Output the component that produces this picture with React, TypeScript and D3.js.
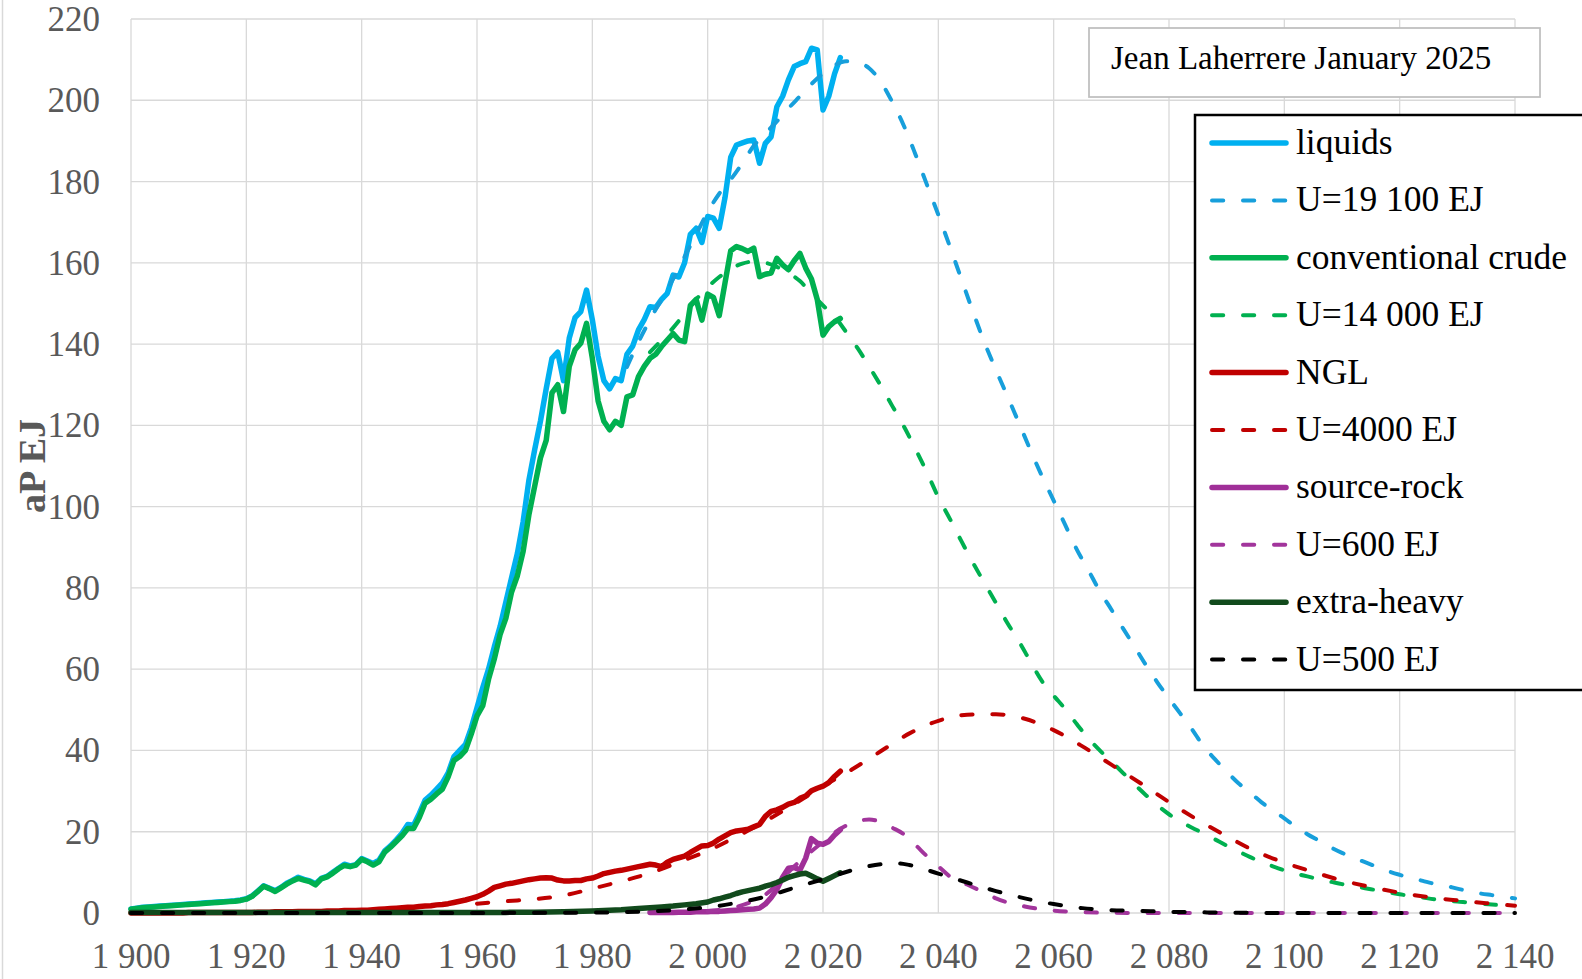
import React from 'react';
import * as d3 from 'd3';

// ---------- data ----------
const HIST_START = 1900;

const liquids = [
  1.0, 1.2, 1.4, 1.5, 1.6, 1.7, 1.8, 1.9, 2.0, 2.1,
  2.2, 2.3, 2.4, 2.5, 2.6, 2.7, 2.8, 2.9, 3.0, 3.2,
  3.5, 4.2, 5.4, 6.7, 6.1, 5.5, 6.3, 7.3, 8.0, 8.8,
  8.3, 7.9, 7.2, 8.5, 9.0, 10.0, 11.0, 12.0, 11.6, 11.9,
  13.4, 12.8, 12.2, 13.0, 15.3, 16.5, 18.0, 19.6, 21.8, 21.6,
  24.5, 27.8, 29.0, 30.5, 32.0, 34.5, 38.5, 40.0, 41.5, 45.5,
  50.5, 55.5, 60.0, 65.5, 70.5, 76.5, 82.5, 88.5, 96.3, 106.5,
  114.0, 121.0, 129.0, 136.5, 138.0, 131.0, 141.5, 146.5, 148.0, 153.3,
  146.0, 137.0, 131.0, 129.0, 131.5, 131.0, 137.5, 139.5, 143.5, 146.0,
  149.2, 149.0, 151.0, 152.5, 157.0, 156.5, 160.0, 167.0, 168.5, 165.0,
  171.4, 171.0, 168.5, 176.0, 186.0, 189.0, 189.5, 190.0, 190.2, 184.5,
  189.4, 191.0, 198.4, 201.0, 205.0, 208.3, 209.0, 209.5, 212.8, 212.4,
  197.6, 201.0, 206.5, 210.5,
];

const conventionalCrude = [
  0.9, 1.1, 1.3, 1.4, 1.5, 1.6, 1.7, 1.8, 1.9, 2.0,
  2.1, 2.2, 2.3, 2.4, 2.5, 2.6, 2.7, 2.8, 2.9, 3.1,
  3.4, 4.1, 5.3, 6.6, 6.0, 5.3, 6.2, 7.1, 7.9, 8.5,
  8.1, 7.7, 6.9, 8.4, 8.9, 9.8, 10.9, 11.7, 11.4, 11.8,
  13.2, 12.6, 11.8, 12.6, 15.0, 16.2, 17.6, 19.0, 20.8, 20.8,
  23.5, 27.0, 28.0, 29.3, 30.5, 33.5, 37.5, 38.5, 40.0, 44.0,
  48.5, 51.0, 57.5, 62.5, 68.5, 72.5, 79.0, 83.0, 89.0, 98.0,
  105.0, 112.0, 116.3, 128.0, 130.0, 123.4, 134.5, 138.6, 140.2, 145.1,
  136.5, 126.0, 121.0, 118.9, 121.0, 120.0, 127.0, 127.5, 132.0, 134.5,
  136.5, 137.5, 139.4, 141.0, 142.6, 141.0, 140.6, 149.5, 151.0, 145.9,
  152.3, 151.5, 147.0, 155.0, 163.0, 164.0, 163.5, 162.8, 163.6, 156.6,
  157.2, 157.5, 161.1, 159.5, 158.3, 160.5, 162.3, 158.7, 156.0, 151.0,
  142.2, 144.3, 145.5, 146.3,
];

const ngl = [
  0.0, 0.0, 0.0, 0.0, 0.0, 0.0, 0.0, 0.0, 0.0, 0.0,
  0.1, 0.1, 0.1, 0.1, 0.1, 0.1, 0.1, 0.1, 0.1, 0.1,
  0.1, 0.1, 0.2, 0.2, 0.2, 0.3, 0.3, 0.3, 0.3, 0.4,
  0.4, 0.4, 0.4, 0.4, 0.5, 0.5, 0.5, 0.6, 0.6, 0.6,
  0.7, 0.7, 0.8, 0.9, 1.0, 1.1, 1.2, 1.3, 1.4, 1.4,
  1.6, 1.7, 1.8, 2.0, 2.1, 2.3, 2.6, 2.9, 3.2, 3.6,
  4.0, 4.6, 5.4, 6.3, 6.7, 7.1, 7.3, 7.6, 7.9, 8.2,
  8.4, 8.6, 8.7, 8.6, 8.1, 7.9, 7.9, 8.0, 8.0, 8.4,
  8.6, 9.1, 9.7, 10.0, 10.3, 10.5, 10.8, 11.1, 11.4, 11.7,
  12.0, 11.8, 11.4, 12.5, 13.2, 13.6, 14.0, 14.9, 15.7, 16.5,
  16.6, 17.2, 18.2, 19.0, 19.8, 20.2, 20.4, 20.6, 21.2, 21.8,
  23.8, 25.0, 25.4, 26.0, 26.8, 27.2, 28.2, 28.8, 30.1, 30.7,
  31.2, 32.1, 33.6, 34.9,
];

const SOURCE_ROCK_START = 1990;
const sourceRock = [
  0.1, 0.1, 0.1, 0.1, 0.1, 0.2, 0.2, 0.2, 0.3, 0.3,
  0.3, 0.4, 0.4, 0.5, 0.6, 0.7, 0.8, 0.9, 1.0, 1.2,
  2.2, 3.8, 5.8, 8.8, 11.0, 11.2, 10.6, 13.5, 18.3, 17.2,
  16.9, 17.6, 19.2, 20.5,
];

const extraHeavyYears = [
  1900, 1950, 1965, 1970, 1975, 1980, 1985, 1988, 1990, 1992, 1994, 1996, 1998,
  2000, 2001, 2002, 2003, 2004, 2005, 2006, 2007, 2008, 2009, 2010, 2011,
  2012, 2013, 2014, 2015, 2016, 2017, 2018, 2019, 2020, 2021, 2022, 2023,
];
const extraHeavy = [
  0.1, 0.1, 0.15, 0.2, 0.3, 0.5, 0.8, 1.1, 1.3, 1.5, 1.7, 2.0, 2.3,
  2.7, 3.2, 3.5, 3.9, 4.3, 4.8, 5.2, 5.5, 5.8, 6.1, 6.6, 7.0,
  7.5, 8.1, 8.8, 9.2, 9.6, 9.8, 9.1, 8.4, 7.8, 8.5, 9.2, 9.9,
];

// models (one value every 2 years)
const U19100_START = 1986;
const u19100 = [
  134.4, 140.5, 146.0, 151.0, 156.0, 161.5, 167.0, 172.5, 177.0, 180.5,
  184.5, 188.8, 191.8, 194.8, 198.0, 201.0, 204.0, 206.6, 208.6, 209.6,
  209.3, 207.9, 204.6, 199.6, 193.8, 186.8, 179.3, 171.8, 164.0, 156.0,
  148.0, 140.4, 133.6, 127.1, 120.5, 113.8, 107.4, 101.5, 95.5, 89.5,
  84.4, 79.2, 74.7, 70.1, 65.6, 61.0, 56.7, 52.8, 49.0, 45.2,
  41.0, 37.8, 34.8, 32.0, 29.7, 27.3, 25.2, 23.3, 21.2, 19.4,
  17.8, 16.2, 14.8, 13.6, 12.5, 11.4, 10.3, 9.4, 8.6, 7.9,
  7.2, 6.7, 6.0, 5.4, 4.8, 4.4, 4.0, 3.6,
];

const U14000_START = 1990;
const u14000 = [
  138.0, 141.0, 144.0, 147.5, 151.0, 154.0, 156.5, 158.5, 159.8, 160.3,
  160.0, 159.0, 157.5, 155.5, 152.5, 149.5, 146.8, 143.0, 139.0, 134.5,
  129.8, 124.8, 119.8, 114.3, 108.5, 102.3, 97.0, 91.5, 86.2, 81.2,
  76.3, 71.3, 66.8, 61.8, 57.0, 53.5, 50.2, 46.5, 43.0, 40.0,
  37.3, 34.5, 31.7, 29.0, 26.5, 24.3, 22.5, 21.0, 19.6, 18.1,
  16.6, 15.2, 13.8, 12.6, 11.5, 10.5, 9.7, 9.0, 8.3, 7.7,
  7.1, 6.6, 6.1, 5.6, 5.1, 4.6, 4.2, 3.8, 3.4, 3.1,
  2.8, 2.6, 2.3, 2.1, 1.9, 1.8,
];

// one value every 5 years
const U4000_START = 1960;
const u4000 = [
  2.3, 2.9, 3.4, 4.3, 6.0, 7.8, 9.8, 12.5, 15.3, 18.8,
  22.6, 26.8, 31.2, 35.3, 39.8, 44.2, 47.3, 48.8, 48.9, 47.8,
  45.0, 41.0, 36.5, 32.0, 27.3, 22.9, 18.9, 15.2, 12.4, 10.1,
  8.0, 6.4, 5.0, 3.9, 3.1, 2.4, 1.8,
];

const u600Years = [
  2000, 2005, 2008, 2010, 2012, 2014, 2016, 2018, 2020, 2022, 2024, 2026, 2028,
  2030, 2032, 2034, 2036, 2038, 2040, 2042, 2045, 2048, 2050, 2055, 2060, 2065,
  2070, 2080, 2090, 2100, 2110, 2120, 2130, 2140,
];
const u600 = [
  0.5, 1.5, 3.0, 4.5, 7.0, 10.0, 12.8, 15.2, 17.5, 19.8, 21.5, 22.6, 23.0,
  22.4, 21.0, 19.4, 16.8, 14.0, 11.5, 9.0, 7.0, 5.0, 3.6, 1.6, 0.6, 0.2,
  0.05, 0, 0, 0, 0, 0, 0, 0,
];

const u500Years = [
  1900, 1950, 1970, 1980, 1985, 1990, 1995, 2000, 2005, 2010, 2015, 2020, 2025,
  2030, 2033, 2035, 2040, 2045, 2050, 2055, 2060, 2065, 2070, 2075, 2080, 2090,
  2100, 2140,
];
const u500 = [
  0, 0, 0.05, 0.1, 0.2, 0.4, 0.8, 1.4, 2.5, 4.0, 6.2, 8.3, 10.5,
  12.0, 12.2, 11.8, 9.7, 7.5, 5.4, 3.6, 2.2, 1.2, 0.7, 0.5, 0.3, 0.1,
  0, 0,
];

const xTicks = [1900, 1920, 1940, 1960, 1980, 2000, 2020, 2040, 2060, 2080, 2100, 2120, 2140];
const xTickLabels = ['1 900', '1 920', '1 940', '1 960', '1 980', '2 000', '2 020', '2 040', '2 060', '2 080', '2 100', '2 120', '2 140'];
const yTicks = [0, 20, 40, 60, 80, 100, 120, 140, 160, 180, 200, 220];

const legendLabels = [
  'liquids', 'U=19 100 EJ', 'conventional crude', 'U=14 000 EJ', 'NGL',
  'U=4000 EJ', 'source-rock', 'U=600 EJ', 'extra-heavy', 'U=500 EJ',
];

// ---------- helpers ----------
type Pt = [number, number];
const annual = (start: number, vals: number[]): Pt[] => vals.map((v, i) => [start + i, v]);
const stepped = (start: number, step: number, vals: number[]): Pt[] => vals.map((v, i) => [start + i * step, v]);
const paired = (yrs: number[], vals: number[]): Pt[] => vals.map((v, i) => [yrs[i], v]);

const FONT = '"Liberation Serif", "Times New Roman", serif';
const DASH = '11.25 19.75';

export default function App() {
  const x = d3.scaleLinear().domain([1900, 2140]).range([131, 1515]);
  const y = d3.scaleLinear().domain([0, 220]).range([913, 19]);
  const lin = d3.line<Pt>().x(d => x(d[0])).y(d => y(d[1]));
  const smooth = d3.line<Pt>().x(d => x(d[0])).y(d => y(d[1])).curve(d3.curveMonotoneX);

  const series = [
    { label: legendLabels[0], color: '#00B0F0', dashed: false, pts: annual(HIST_START, liquids) },
    { label: legendLabels[1], color: '#179FDB', dashed: true, pts: stepped(U19100_START, 2, u19100) },
    { label: legendLabels[2], color: '#00B050', dashed: false, pts: annual(HIST_START, conventionalCrude) },
    { label: legendLabels[3], color: '#00B050', dashed: true, pts: stepped(U14000_START, 2, u14000) },
    { label: legendLabels[4], color: '#C00000', dashed: false, pts: annual(HIST_START, ngl) },
    { label: legendLabels[5], color: '#C00000', dashed: true, pts: stepped(U4000_START, 5, u4000) },
    { label: legendLabels[6], color: '#A02F98', dashed: false, pts: annual(SOURCE_ROCK_START, sourceRock) },
    { label: legendLabels[7], color: '#A2359C', dashed: true, pts: paired(u600Years, u600) },
    { label: legendLabels[8], color: '#114A1C', dashed: false, pts: paired(extraHeavyYears, extraHeavy) },
    { label: legendLabels[9], color: '#000000', dashed: true, pts: paired(u500Years, u500) },
  ];

  const legendX = 1195, legendY = 115, legendRow0 = 143, legendStep = 57.4;

  return (
    <svg width={1582} height={979} style={{ position: 'absolute', left: 0, top: 0, background: '#fff' }}
      fontFamily={FONT}>
      <rect x={0} y={0} width={1582} height={979} fill="#fff" />
      <line x1={2.5} x2={2.5} y1={0} y2={979} stroke="#D9D9D9" strokeWidth={1.5} />
      {/* grid */}
      <g stroke="#D9D9D9" strokeWidth={1.3}>
        {yTicks.map(t => <line key={'gy' + t} x1={x(1900)} x2={x(2140)} y1={y(t)} y2={y(t)} />)}
        {xTicks.map(t => <line key={'gx' + t} x1={x(t)} x2={x(t)} y1={y(0)} y2={y(220)} />)}
      </g>
      {/* tick labels */}
      <g fill="#595959" fontSize={35}>
        {yTicks.map(t => (
          <text key={'ty' + t} x={100} y={y(t) + 12} textAnchor="end">{t}</text>
        ))}
        {xTicks.map((t, i) => (
          <text key={'tx' + t} x={x(t)} y={968} textAnchor="middle">{xTickLabels[i]}</text>
        ))}
      </g>
      <text transform={`translate(44.5, 466) rotate(-90)`} textAnchor="middle" fontSize={38}
        fontWeight="bold" fill="#595959">aP EJ</text>
      {/* series */}
      <g fill="none" strokeLinejoin="round">
        {series.map(s => (
          <path key={s.label} d={(s.dashed ? smooth(s.pts) : lin(s.pts)) || ''} stroke={s.color}
            strokeWidth={s.dashed ? 4 : 5.5} strokeDasharray={s.dashed ? DASH : undefined}
            strokeLinecap="round" />
        ))}
      </g>
      {/* author box */}
      <rect x={1089} y={28} width={451} height={69} fill="#fff" stroke="#BFBFBF" strokeWidth={1.75} />
      <text x={1111} y={69} fontSize={33} fill="#000">Jean Laherrere January 2025</text>
      {/* legend */}
      <rect x={legendX} y={legendY} width={420} height={575} fill="#fff" stroke="#000" strokeWidth={2.5} />
      {series.map((s, i) => {
        const ly = legendRow0 + i * legendStep;
        return (
          <g key={'lg' + s.label}>
            <line x1={1212} x2={1286} y1={ly} y2={ly} stroke={s.color} strokeWidth={s.dashed ? 4 : 5.5}
              strokeLinecap="round" strokeDasharray={s.dashed ? DASH : undefined} />
            <text x={1296} y={ly + 11} fontSize={35.5} fill="#000">{s.label}</text>
          </g>
        );
      })}
    </svg>
  );
}
